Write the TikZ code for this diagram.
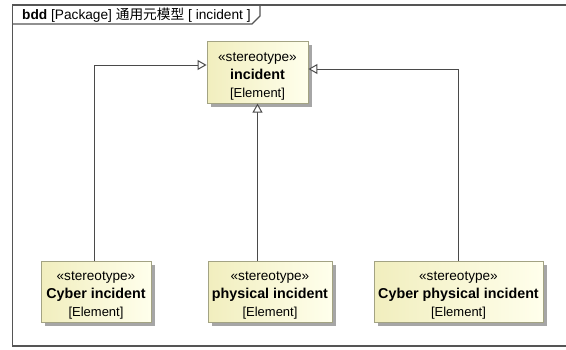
\documentclass[tikz,border=0pt]{standalone}
\usepackage{fontspec}
\setmainfont{Liberation Sans}
\newfontfamily\cjkfont{Noto Sans CJK SC}
\usetikzlibrary{arrows.meta,shadows}
\definecolor{framegray}{HTML}{555555}
\definecolor{linegray}{HTML}{4A4A4A}
\definecolor{boxedge}{HTML}{A3A383}
\definecolor{boxleft}{HTML}{F1EEBE}
\definecolor{boxright}{HTML}{FFFFEC}
\tikzset{
  block/.style={draw=boxedge, line width=0.9pt, left color=boxleft, right color=boxright,
    minimum height=60pt, inner xsep=2pt, align=center,
    font=\fontsize{13}{18}\selectfont,
    drop shadow={shadow xshift=3.5pt, shadow yshift=-3.5pt, fill=black!35, opacity=1}},
  gen/.style={draw=linegray, line width=1pt,
    -{Triangle[open, length=9pt, width=10pt, fill=white]}},
  framebox/.style={draw=framegray, line width=1.2pt},
}
\newcommand{\stblock}[1]{\rule{0pt}{16pt}{\fontsize{13.6}{18}\selectfont\guillemotleft stereotype\guillemotright}\\
  {\fontsize{14.3}{18}\selectfont\bfseries #1}\\ \mbox{[Element]}}
\begin{document}
\begin{tikzpicture}[x=1pt, y=-1pt]
  \useasboundingbox (0,0) rectangle (566,349);
  \fill[white] (0,0) rectangle (566,349);
  \begin{scope}
    \clip (0,0) rectangle (566,349);
    % diagram frame and its name tab
    \draw[framebox] (572,5) -- (12.5,5) -- (12.5,346) -- (572,346);
    \draw[framebox] (12.5,24) -- (252,24) -- (260,16) -- (260,5);
  \end{scope}
  \node[anchor=west, inner sep=0pt, font=\fontsize{13.7}{16}\selectfont] (title) at (22,15)
    {\textbf{bdd} [Package] {\cjkfont 通用元模型} [ incident ]};

  % stereotype blocks
  \node[block, minimum width=101pt] (inc) at (257.5,72.5) {\stblock{incident}};
  \node[block, minimum width=110pt] (cyb) at (96,292) {\stblock{Cyber incident}};
  \node[block, minimum width=124pt] (phy) at (270,292) {\stblock{physical incident}};
  \node[block, minimum width=169pt] (cph) at (458.5,292) {\stblock{Cyber physical incident}};

  % attachment points on the general block
  \coordinate (incL) at ([yshift=7.5pt]inc.west);
  \coordinate (incR) at ([yshift=3.5pt]inc.east);
  \coordinate (phyT) at (inc.south |- phy.north);

  % generalisations
  \draw[gen] ([xshift=-2pt]cyb.north) |- (incL);
  \draw[gen] (phyT) -- (inc.south);
  \draw[gen] (cph.north) |- (incR);
\end{tikzpicture}
\end{document}
